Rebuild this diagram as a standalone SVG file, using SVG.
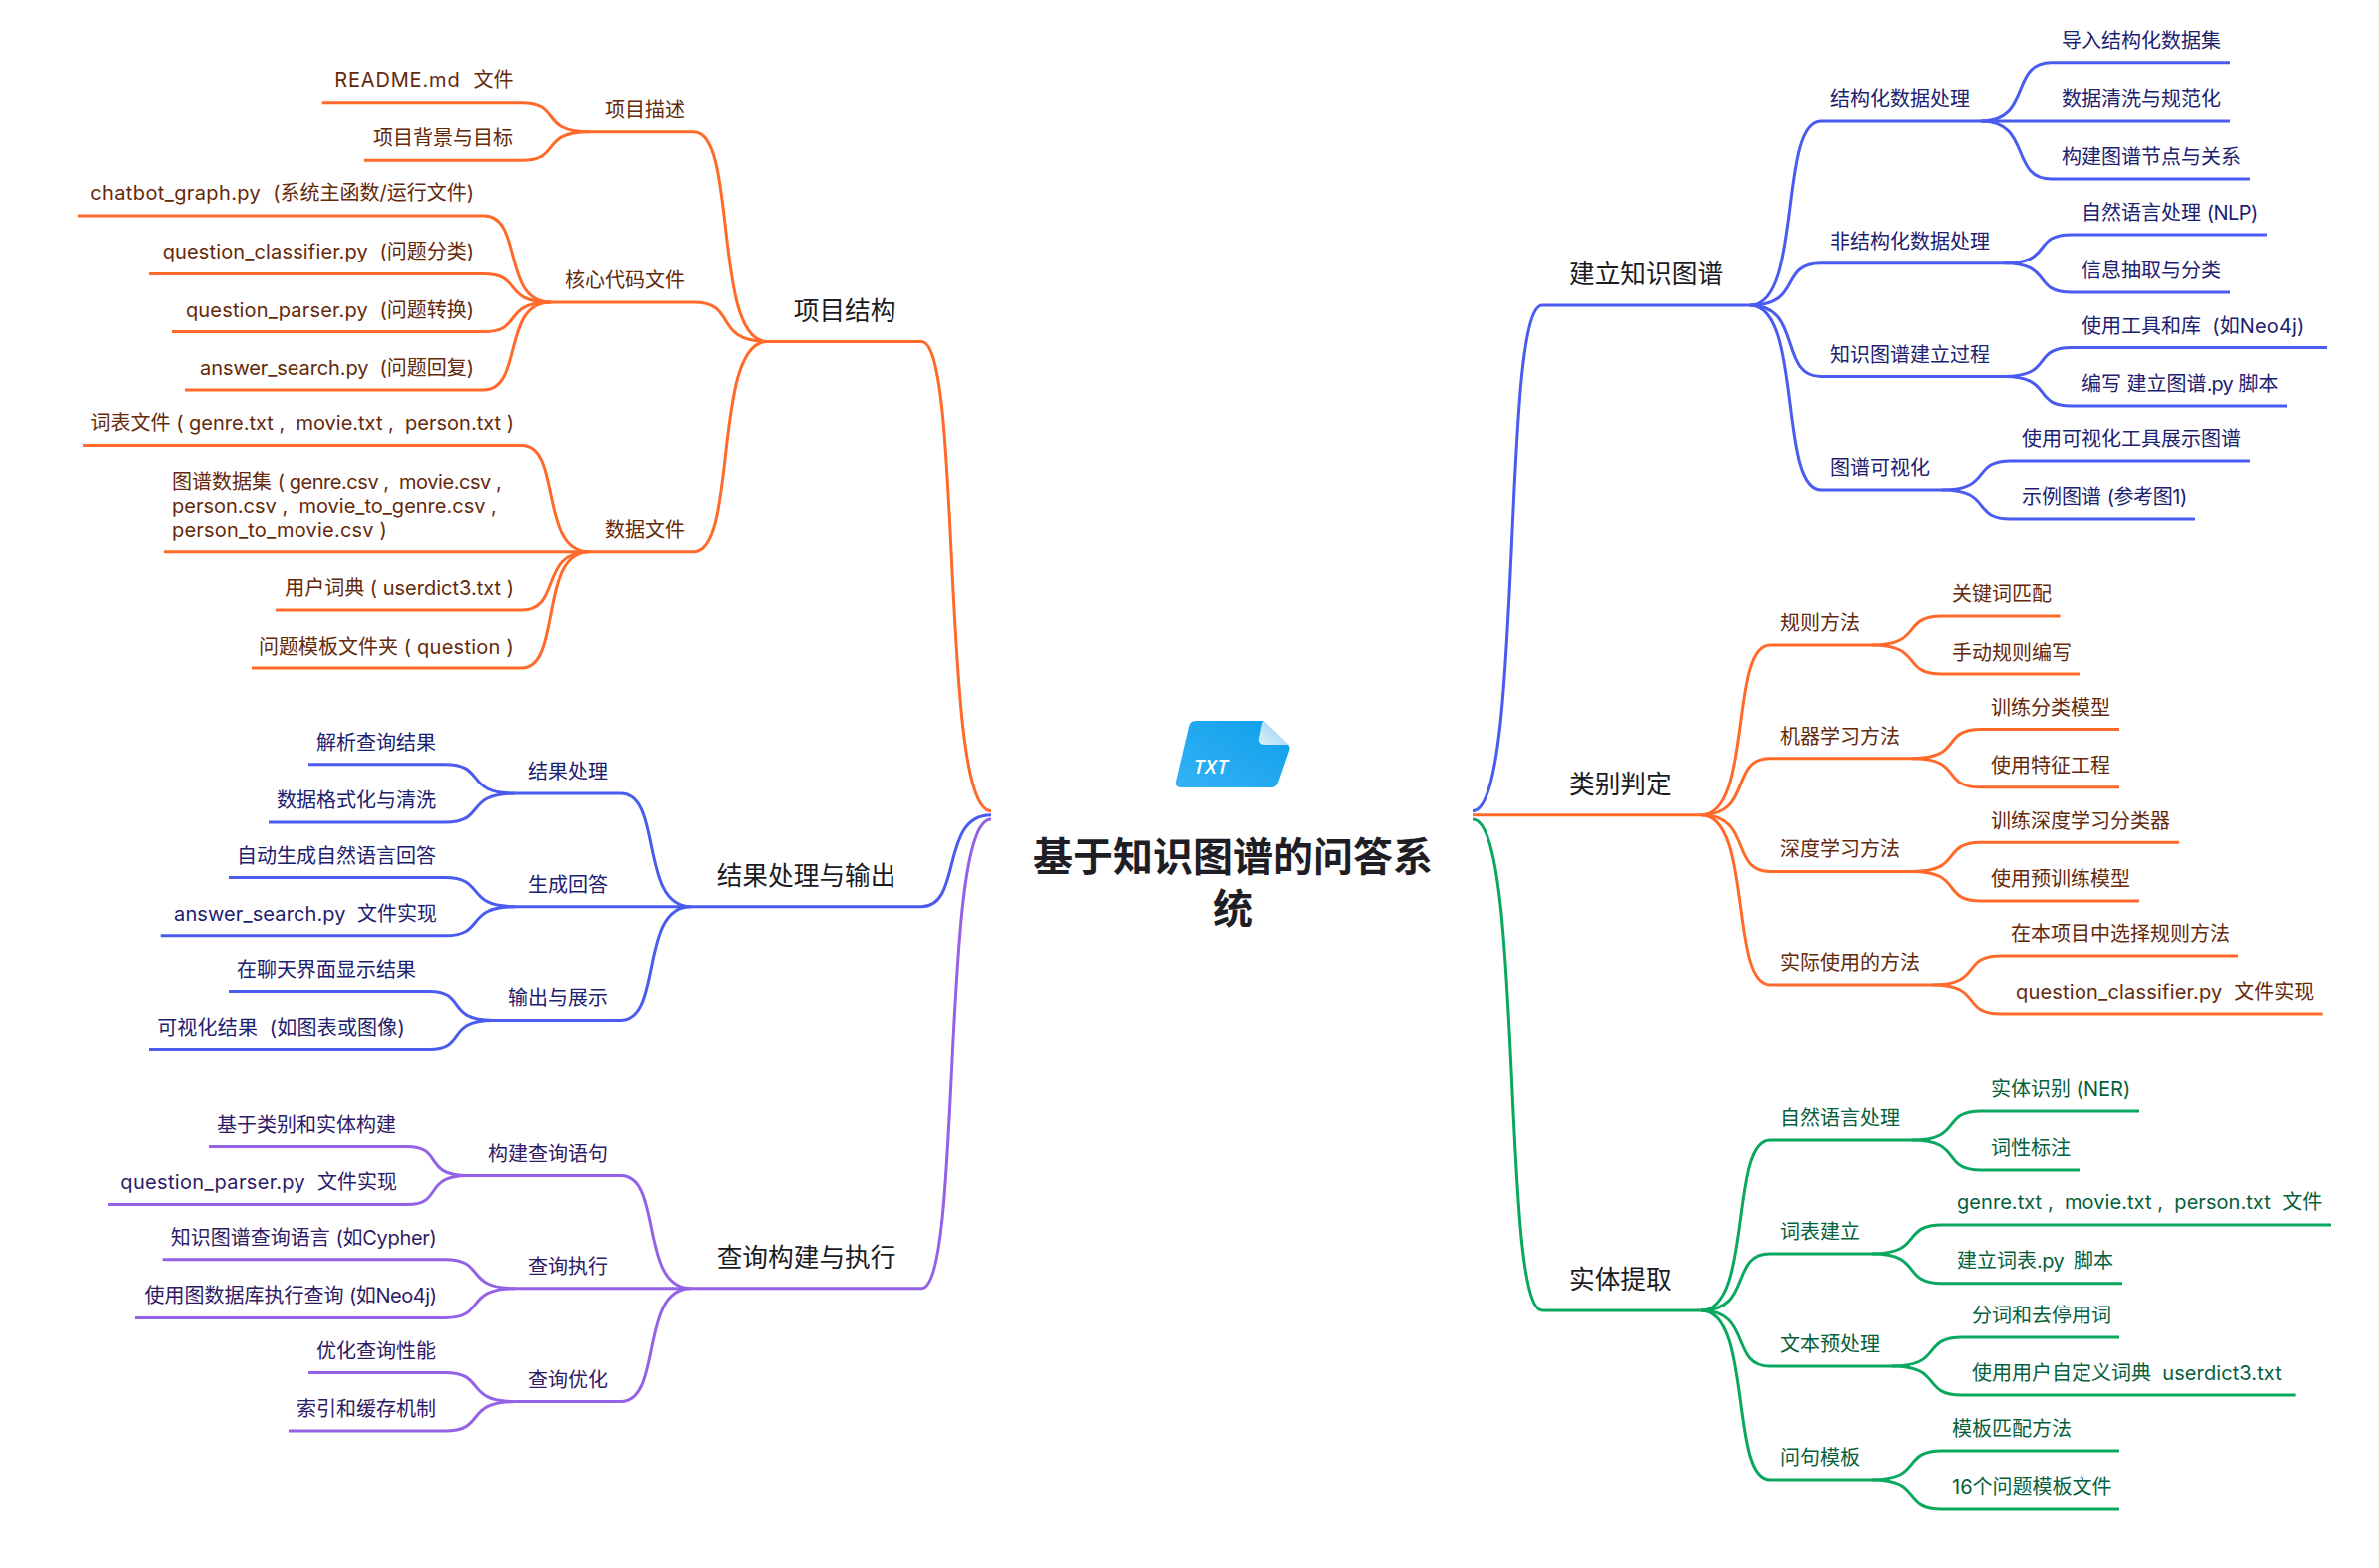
<svg xmlns="http://www.w3.org/2000/svg" width="2383" height="1571" viewBox="0 0 2383 1571">
<style>
text{font-family:Inter,"Noto Sans CJK SC",sans-serif;font-size:20px;white-space:pre}
.e{text-anchor:end}
.h{font-size:25.7px;fill:#1b1b1f}
.o{fill:#64290a}.b{fill:#1c2170}.p{fill:#2f1a66}.g{fill:#05603c}
.root{font-family:"Noto Sans CJK SC",sans-serif;font-size:40px;font-weight:700;fill:#1e1e24;text-anchor:middle}
#connectors path{fill:none;stroke-width:3}
.co path{stroke:#ff6a2b}.cb path{stroke:#4a5bef}.cp path{stroke:#9462e6}.cg path{stroke:#0aa85f}
</style>
<defs>
<linearGradient id="doc" x1="0" y1="1" x2="1" y2="0"><stop offset="0" stop-color="#35b2f6"/><stop offset="1" stop-color="#0e9fe9"/></linearGradient>
<linearGradient id="fold" x1="0" y1="1" x2="1" y2="0"><stop offset="0" stop-color="#dcf0fc"/><stop offset="1" stop-color="#8ccdf3"/></linearGradient>
</defs>
<g id="connectors">
<g class="co">
<path d="M768.5 342.4H923C965 342.4 941 812.7 993 812.7"/>
<path d="M590 131.7H695C739 131.7 713 342.4 768.5 342.4"/>
<path d="M322.7 102.7H523C563 102.7 540 131.7 590 131.7"/>
<path d="M365 160.3H523C563 160.3 540 131.7 590 131.7"/>
<path d="M552 303H695C739 303 713 342.4 768.5 342.4"/>
<path d="M78 216H484.7C525 216 502 303 552 303"/>
<path d="M149 274.6H484.7C525 274.6 502 303 552 303"/>
<path d="M172 332.6H484.7C525 332.6 502 303 552 303"/>
<path d="M185 391H484.7C525 391 502 303 552 303"/>
<path d="M590 552.7H695C739 552.7 713 342.4 768.5 342.4"/>
<path d="M83 446.4H523C563 446.4 540 552.7 590 552.7"/>
<path d="M164 552.7H590"/>
<path d="M276 611H523C563 611 540 552.7 590 552.7"/>
<path d="M252 669H523C563 669 540 552.7 590 552.7"/>
</g>
<g class="cb">
<path d="M692 908.7H923C965 908.7 941 816.7 993 816.7"/>
<path d="M516.6 795H622C664 795 640 908.7 692 908.7"/>
<path d="M309 765.8H446C488 765.8 464 795 516.6 795"/>
<path d="M269 824H446C488 824 464 795 516.6 795"/>
<path d="M516.6 908.7H692"/>
<path d="M229 879.6H446C488 879.6 464 908.7 516.6 908.7"/>
<path d="M160.7 937.8H446C488 937.8 464 908.7 516.6 908.7"/>
<path d="M494 1022.4H622C664 1022.4 640 908.7 692 908.7"/>
<path d="M229 993.4H430.5C468 993.4 446 1022.4 494 1022.4"/>
<path d="M149 1051.5H430.5C468 1051.5 446 1022.4 494 1022.4"/>
</g>
<g class="cp">
<path d="M692 1290.8H923C965 1290.8 941 821 993 821"/>
<path d="M469 1177.6H622C664 1177.6 640 1290.8 692 1290.8"/>
<path d="M209 1148.5H408C445 1148.5 423 1177.6 469 1177.6"/>
<path d="M108 1206.6H408C445 1206.6 423 1177.6 469 1177.6"/>
<path d="M516.6 1290.8H692"/>
<path d="M162.6 1261.7H446C488 1261.7 464 1290.8 516.6 1290.8"/>
<path d="M135 1320.4H446C488 1320.4 464 1290.8 516.6 1290.8"/>
<path d="M516.6 1404.6H622C664 1404.6 640 1290.8 692 1290.8"/>
<path d="M309 1375.5H446C488 1375.5 464 1404.6 516.6 1404.6"/>
<path d="M289 1434H446C488 1434 464 1404.6 516.6 1404.6"/>
</g>
<g class="cb">
<path d="M1753 306H1545C1503 306 1527 812.7 1475 812.7"/>
<path d="M1984 121H1824C1781 121 1806 306 1753 306"/>
<path d="M2234 62.8H2055C2012 62.8 2036 121 1984 121"/>
<path d="M2234 121H1984"/>
<path d="M2254 179H2055C2012 179 2036 121 1984 121"/>
<path d="M2007 263.8H1824C1781 263.8 1806 306 1753 306"/>
<path d="M2271 235H2075C2034 235 2058 263.8 2007 263.8"/>
<path d="M2234 293H2075C2034 293 2058 263.8 2007 263.8"/>
<path d="M2007 377.5H1824C1781 377.5 1806 306 1753 306"/>
<path d="M2331 348.5H2075C2034 348.5 2058 377.5 2007 377.5"/>
<path d="M2291 407H2075C2034 407 2058 377.5 2007 377.5"/>
<path d="M1945 491H1824C1781 491 1806 306 1753 306"/>
<path d="M2254 462H2014C1973 462 1997 491 1945 491"/>
<path d="M2199 520H2014C1973 520 1997 491 1945 491"/>
</g>
<g class="co">
<path d="M1704 816.7H1475"/>
<path d="M1875 646H1773C1732 646 1756 816.7 1704 816.7"/>
<path d="M2063.6 617H1945C1903 617 1927 646 1875 646"/>
<path d="M2083 675H1945C1903 675 1927 646 1875 646"/>
<path d="M1915 759.7H1773C1732 759.7 1756 816.7 1704 816.7"/>
<path d="M2123 730.6H1984C1943 730.6 1967 759.7 1915 759.7"/>
<path d="M2123 788.8H1984C1943 788.8 1967 759.7 1915 759.7"/>
<path d="M1915 873.4H1773C1732 873.4 1756 816.7 1704 816.7"/>
<path d="M2183 844.3H1984C1943 844.3 1967 873.4 1915 873.4"/>
<path d="M2143 903H1984C1943 903 1967 873.4 1915 873.4"/>
<path d="M1935 987H1773C1732 987 1756 816.7 1704 816.7"/>
<path d="M2242 958H2004C1963 958 1987 987 1935 987"/>
<path d="M2326.6 1016H2004C1963 1016 1987 987 1935 987"/>
</g>
<g class="cg">
<path d="M1704 1313H1545C1503 1313 1527 821 1475 821"/>
<path d="M1915 1142H1773C1732 1142 1756 1313 1704 1313"/>
<path d="M2143 1113H1984C1943 1113 1967 1142 1915 1142"/>
<path d="M2083 1172H1984C1943 1172 1967 1142 1915 1142"/>
<path d="M1875 1256H1773C1732 1256 1756 1313 1704 1313"/>
<path d="M2335 1227H1945C1903 1227 1927 1256 1875 1256"/>
<path d="M2126 1285.7H1945C1903 1285.7 1927 1256 1875 1256"/>
<path d="M1895 1369H1773C1732 1369 1756 1313 1704 1313"/>
<path d="M2123 1340H1965C1923 1340 1947 1369 1895 1369"/>
<path d="M2299.6 1398H1965C1923 1398 1947 1369 1895 1369"/>
<path d="M1875 1483H1773C1732 1483 1756 1313 1704 1313"/>
<path d="M2123 1454H1945C1903 1454 1927 1483 1875 1483"/>
<path d="M2123 1512H1945C1903 1512 1927 1483 1875 1483"/>
</g>
</g>
<g id="root">
<path d="M1198 722H1265L1291 747Q1292 749 1291 752L1280 784Q1278 789 1273 789H1183Q1177 789 1178 783L1191 728Q1192 722 1198 722Z" fill="url(#doc)"/>
<path d="M1265 722L1291 746H1266Q1260 746 1261 739L1263 729Q1264 724 1265 722Z" fill="url(#fold)"/>
<text x="1196" y="775" style="font-family:'Open Sans',sans-serif;font-size:20px;font-weight:600;font-style:italic;fill:#fff;letter-spacing:1px">TXT</text>
<text class="root" x="1235" y="873">基于知识图谱的问答系</text>
<text class="root" x="1235" y="925">统</text>
</g>
<g id="n-xmjg"><text class="h e" x="897.5" y="321">项目结构</text></g>
<g id="n-xmms"><text class="o e" x="686" y="117">项目描述</text></g>
<g id="n-readme"><text class="o e" x="514.5" y="87.3"><tspan style="letter-spacing:.85px">README.md  </tspan>文件</text></g>
<g id="n-xmbj"><text class="o e" x="514" y="145">项目背景与目标</text></g>
<g id="n-hxdm"><text class="o e" x="686" y="288">核心代码文件</text></g>
<g id="n-chatbot"><text class="o e" x="475" y="200"><tspan style="letter-spacing:.38px">chatbot_graph.py  </tspan>(系统主函数/运行文件)</text></g>
<g id="n-classifier"><text class="o e" x="475" y="259"><tspan style="letter-spacing:.14px">question_classifier.py  </tspan>(问题分类)</text></g>
<g id="n-parser"><text class="o e" x="475" y="317.5"><tspan style="letter-spacing:.17px">question_parser.py  </tspan>(问题转换)</text></g>
<g id="n-answer"><text class="o e" x="475" y="375.5"><tspan style="letter-spacing:-.1px">answer_search.py  </tspan>(问题回复)</text></g>
<g id="n-sjwj"><text class="o e" x="686" y="538">数据文件</text></g>
<g id="n-cbwj"><text class="o e" x="515" y="431">词表文件 ( genre.txt ,  movie.txt ,  person.txt )</text></g>
<g id="n-tpsj"><text class="o" x="172" y="490">图谱数据集 <tspan style="letter-spacing:-.45px">( genre.csv ,  movie.csv ,</tspan></text><text class="o" x="172" y="514">person.csv ,  movie_to_genre.csv ,</text><text class="o" x="172" y="538" style="letter-spacing:.2px">person_to_movie.csv )</text></g>
<g id="n-yhcd"><text class="o e" x="515" y="596">用户词典 ( userdict3.txt )</text></g>
<g id="n-wtmb"><text class="o e" x="515" y="655">问题模板文件夹 <tspan style="letter-spacing:.25px">( question )</tspan></text></g>
<g id="n-jgcl"><text class="h e" x="897.5" y="887">结果处理与输出</text></g>
<g id="n-jg"><text class="b e" x="609" y="780">结果处理</text></g>
<g id="n-jx"><text class="b e" x="437" y="751">解析查询结果</text></g>
<g id="n-gs"><text class="b e" x="437" y="809">数据格式化与清洗</text></g>
<g id="n-schd"><text class="b e" x="609" y="894">生成回答</text></g>
<g id="n-zd"><text class="b e" x="437" y="865">自动生成自然语言回答</text></g>
<g id="n-as"><text class="b e" x="438" y="923"><tspan style="letter-spacing:.1px">answer_search.py  </tspan>文件实现</text></g>
<g id="n-sc"><text class="b e" x="609" y="1007">输出与展示</text></g>
<g id="n-lt"><text class="b e" x="417" y="979">在聊天界面显示结果</text></g>
<g id="n-ksh"><text class="b e" x="406" y="1037" style="letter-spacing:.2px">可视化结果  (如图表或图像)</text></g>
<g id="n-cxgj"><text class="h e" x="897.5" y="1269">查询构建与执行</text></g>
<g id="n-gjcx"><text class="p e" x="609" y="1163">构建查询语句</text></g>
<g id="n-jyl"><text class="p e" x="397" y="1134">基于类别和实体构建</text></g>
<g id="n-qp"><text class="p e" x="398" y="1191"><tspan style="letter-spacing:.33px">question_parser.py  </tspan>文件实现</text></g>
<g id="n-cxzx"><text class="p e" x="609" y="1276">查询执行</text></g>
<g id="n-cy"><text class="p e" x="437.5" y="1247"><tspan>知识图谱查询语言 </tspan><tspan style="letter-spacing:-.3px">(如Cypher)</tspan></text></g>
<g id="n-sy"><text class="p e" x="437.5" y="1305"><tspan>使用图数据库执行查询 </tspan><tspan style="letter-spacing:-.45px">(如Neo4j)</tspan></text></g>
<g id="n-cxyh"><text class="p e" x="609" y="1390">查询优化</text></g>
<g id="n-yh"><text class="p e" x="437" y="1361">优化查询性能</text></g>
<g id="n-sy2"><text class="p e" x="437" y="1419">索引和缓存机制</text></g>
<g id="n-jlzs"><text class="h" x="1572" y="284">建立知识图谱</text></g>
<g id="n-jgh"><text class="b" x="1833" y="106">结构化数据处理</text></g>
<g id="n-dr"><text class="b" x="2065" y="48">导入结构化数据集</text></g>
<g id="n-qx"><text class="b" x="2065" y="106">数据清洗与规范化</text></g>
<g id="n-gjtp"><text class="b" x="2065" y="164">构建图谱节点与关系</text></g>
<g id="n-fjg"><text class="b" x="1833" y="249">非结构化数据处理</text></g>
<g id="n-nlp"><text class="b" x="2085" y="220">自然语言处理 <tspan style="letter-spacing:-.5px">(NLP)</tspan></text></g>
<g id="n-xx"><text class="b" x="2085" y="278">信息抽取与分类</text></g>
<g id="n-zstp"><text class="b" x="1833" y="363">知识图谱建立过程</text></g>
<g id="n-gj"><text class="b" x="2085" y="334">使用工具和库  <tspan style="letter-spacing:.15px">(如Neo4j)</tspan></text></g>
<g id="n-bx"><text class="b" x="2085" y="392">编写 建立图谱<tspan style="letter-spacing:-.9px">.py</tspan> 脚本</text></g>
<g id="n-tpksh"><text class="b" x="1833" y="476">图谱可视化</text></g>
<g id="n-zs"><text class="b" x="2025" y="447">使用可视化工具展示图谱</text></g>
<g id="n-sl"><text class="b" x="2025" y="505">示例图谱 <tspan style="letter-spacing:-.4px">(参考图1)</tspan></text></g>
<g id="n-lbpd"><text class="h" x="1572" y="795">类别判定</text></g>
<g id="n-gzff"><text class="o" x="1783" y="631">规则方法</text></g>
<g id="n-gjc"><text class="o" x="1955" y="602">关键词匹配</text></g>
<g id="n-sd"><text class="o" x="1955" y="661">手动规则编写</text></g>
<g id="n-jq"><text class="o" x="1783" y="745">机器学习方法</text></g>
<g id="n-xl"><text class="o" x="1994" y="716">训练分类模型</text></g>
<g id="n-tz"><text class="o" x="1994" y="774">使用特征工程</text></g>
<g id="n-sd2"><text class="o" x="1783" y="858">深度学习方法</text></g>
<g id="n-xlsd"><text class="o" x="1994" y="830">训练深度学习分类器</text></g>
<g id="n-yxl"><text class="o" x="1994" y="888">使用预训练模型</text></g>
<g id="n-sj"><text class="o" x="1783" y="972">实际使用的方法</text></g>
<g id="n-zb"><text class="o" x="2014" y="943">在本项目中选择规则方法</text></g>
<g id="n-qc"><text class="o" x="2019" y="1001"><tspan style="letter-spacing:.2px">question_classifier.py  </tspan>文件实现</text></g>
<g id="n-sttq"><text class="h" x="1572" y="1291">实体提取</text></g>
<g id="n-zryy"><text class="g" x="1783" y="1127">自然语言处理</text></g>
<g id="n-ner"><text class="g" x="1994" y="1098">实体识别 (NER)</text></g>
<g id="n-cx"><text class="g" x="1994" y="1157">词性标注</text></g>
<g id="n-cbjl"><text class="g" x="1783" y="1241">词表建立</text></g>
<g id="n-gn"><text class="g" x="1960" y="1211"><tspan style="letter-spacing:.05px">genre.txt ,  movie.txt ,  person.txt  </tspan>文件</text></g>
<g id="n-jlcb"><text class="g" x="1960" y="1270">建立词表<tspan style="letter-spacing:-.6px">.py  </tspan>脚本</text></g>
<g id="n-wb"><text class="g" x="1783" y="1354">文本预处理</text></g>
<g id="n-fc"><text class="g" x="1975" y="1325">分词和去停用词</text></g>
<g id="n-yhzd"><text class="g" x="1975" y="1383">使用用户自定义词典  <tspan style="letter-spacing:.1px">userdict3.txt</tspan></text></g>
<g id="n-wjmb"><text class="g" x="1783" y="1468">问句模板</text></g>
<g id="n-mbpp"><text class="g" x="1955" y="1439">模板匹配方法</text></g>
<g id="n-16"><text class="g" x="1955" y="1497">16个问题模板文件</text></g>
</svg>
